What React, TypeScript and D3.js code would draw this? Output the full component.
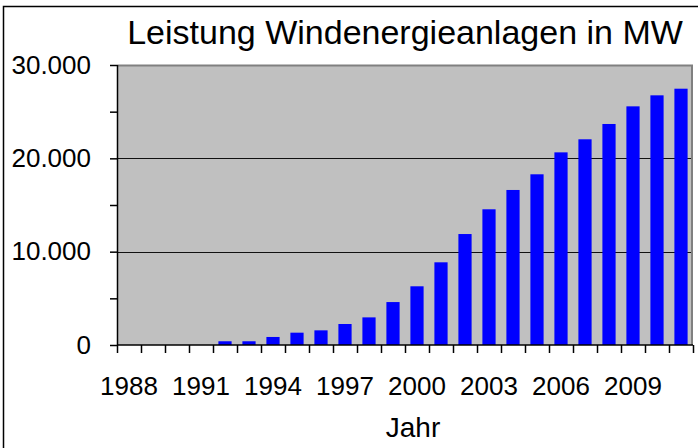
import { useEffect, useRef } from "react";
import * as d3 from "d3";

const years = [
  "1988", "1989", "1990", "1991", "1992", "1993", "1994", "1995",
  "1996", "1997", "1998", "1999", "2000", "2001", "2002", "2003",
  "2004", "2005", "2006", "2007", "2008", "2009", "2010", "2011",
];
// installed capacity in MW
const capacity = [
  0, 0, 0, 0, 400, 400, 860, 1320,
  1570, 2250, 2960, 4600, 6290, 8860, 11890, 14540,
  16610, 18290, 20640, 22040, 23680, 25570, 26750, 27460,
];
const yTicks = [0, 5000, 10000, 15000, 20000, 25000, 30000];
const yLabelTicks = [0, 10000, 20000, 30000];
const xLabelYears = ["1988", "1991", "1994", "1997", "2000", "2003", "2006", "2009"];

const title = "Leistung Windenergieanlagen in MW";
const xTitle = "Jahr";

const W = 698;
const H = 448;

export default function App() {
  const svgRef = useRef<SVGSVGElement>(null);

  useEffect(() => {
    const margin = { top: 65, right: 5, bottom: 103, left: 117 };
    const plotW = W - margin.left - margin.right;
    const plotH = H - margin.top - margin.bottom;
    const font = "'Liberation Sans', Arial, sans-serif";

    const svg = d3.select(svgRef.current);
    svg.selectAll("*").remove();

    // outer chart frame (right and bottom fall outside the picture)
    svg
      .append("rect")
      .attr("x", 3.5)
      .attr("y", 6.5)
      .attr("width", W + 10)
      .attr("height", H + 10)
      .attr("fill", "white")
      .attr("stroke", "black")
      .attr("stroke-width", 1.5);

    svg
      .append("text")
      .attr("x", margin.left + plotW / 2)
      .attr("y", 44)
      .attr("text-anchor", "middle")
      .attr("font-family", font)
      .attr("font-size", 34)
      .text(title);

    const chart = svg
      .append("g")
      .attr("transform", `translate(${margin.left},${margin.top})`);

    const x = d3
      .scaleBand()
      .domain(years)
      .range([0, plotW])
      .paddingInner(0.45)
      .paddingOuter(0.225);

    const y = d3.scaleLinear().domain([0, 30000]).range([plotH, 0]);

    const de = d3.formatLocale({
      decimal: ",",
      thousands: ".",
      grouping: [3],
      currency: ["", " €"],
    });
    const fmt = de.format(",d");

    // plot area
    chart
      .append("rect")
      .attr("width", plotW)
      .attr("height", plotH)
      .attr("fill", "#c0c0c0");

    // gridlines
    chart
      .selectAll(".grid")
      .data([10000, 20000])
      .enter()
      .append("line")
      .attr("x1", 0)
      .attr("x2", plotW)
      .attr("y1", (d) => Math.round(y(d)) + 0.5)
      .attr("y2", (d) => Math.round(y(d)) + 0.5)
      .attr("stroke", "#111")
      .attr("stroke-width", 1);

    // top and right border of plot area
    chart
      .append("path")
      .attr("d", `M0,0.5H${plotW - 1}V${plotH}`)
      .attr("fill", "none")
      .attr("stroke", "#808080")
      .attr("stroke-width", 2);

    // bars
    chart
      .selectAll(".bar")
      .data(capacity)
      .enter()
      .append("rect")
      .attr("x", (d, i) => x(years[i])!)
      .attr("width", x.bandwidth())
      .attr("y", (d) => y(d))
      .attr("height", (d) => plotH - y(d))
      .attr("fill", "#0000ff");

    // y axis
    const yAxis = chart
      .append("g")
      .call(
        d3
          .axisLeft(y)
          .tickValues(yTicks)
          .tickSize(7)
          .tickPadding(19)
          .tickFormat((d) => (yLabelTicks.includes(+d) ? fmt(+d) : ""))
      );
    yAxis.select(".domain").attr("d", `M0.5,0V${plotH}`).attr("stroke-width", 1.5);
    yAxis.selectAll("line").attr("stroke-width", 1.5);
    yAxis
      .selectAll("text")
      .attr("font-family", font)
      .attr("font-size", 26)
      .attr("fill", "black");

    // x axis: ticks at category boundaries
    const xAxis = chart.append("g").attr("transform", `translate(0,${plotH})`);
    xAxis
      .append("line")
      .attr("x1", 0)
      .attr("x2", plotW)
      .attr("y1", 0)
      .attr("y2", 0)
      .attr("stroke", "black")
      .attr("stroke-width", 1.5);
    xAxis
      .selectAll(".tick")
      .data(d3.range(years.length + 1))
      .enter()
      .append("line")
      .attr("x1", (i) => Math.round(i * x.step()) + 0.5)
      .attr("x2", (i) => Math.round(i * x.step()) + 0.5)
      .attr("y1", 0)
      .attr("y2", 8)
      .attr("stroke", "black")
      .attr("stroke-width", 1.5);
    xAxis
      .selectAll(".lbl")
      .data(xLabelYears)
      .enter()
      .append("text")
      .attr("x", (d) => x(d)! + x.bandwidth() / 2)
      .attr("y", 50)
      .attr("text-anchor", "middle")
      .attr("font-family", font)
      .attr("font-size", 26)
      .text((d) => d);

    svg
      .append("text")
      .attr("x", 413)
      .attr("y", 437)
      .attr("text-anchor", "middle")
      .attr("font-family", font)
      .attr("font-size", 28)
      .text(xTitle);
  }, []);

  return (
    <svg
      ref={svgRef}
      width={W}
      height={H}
      style={{ position: "absolute", left: 0, top: 0, display: "block" }}
    ></svg>
  );
}
